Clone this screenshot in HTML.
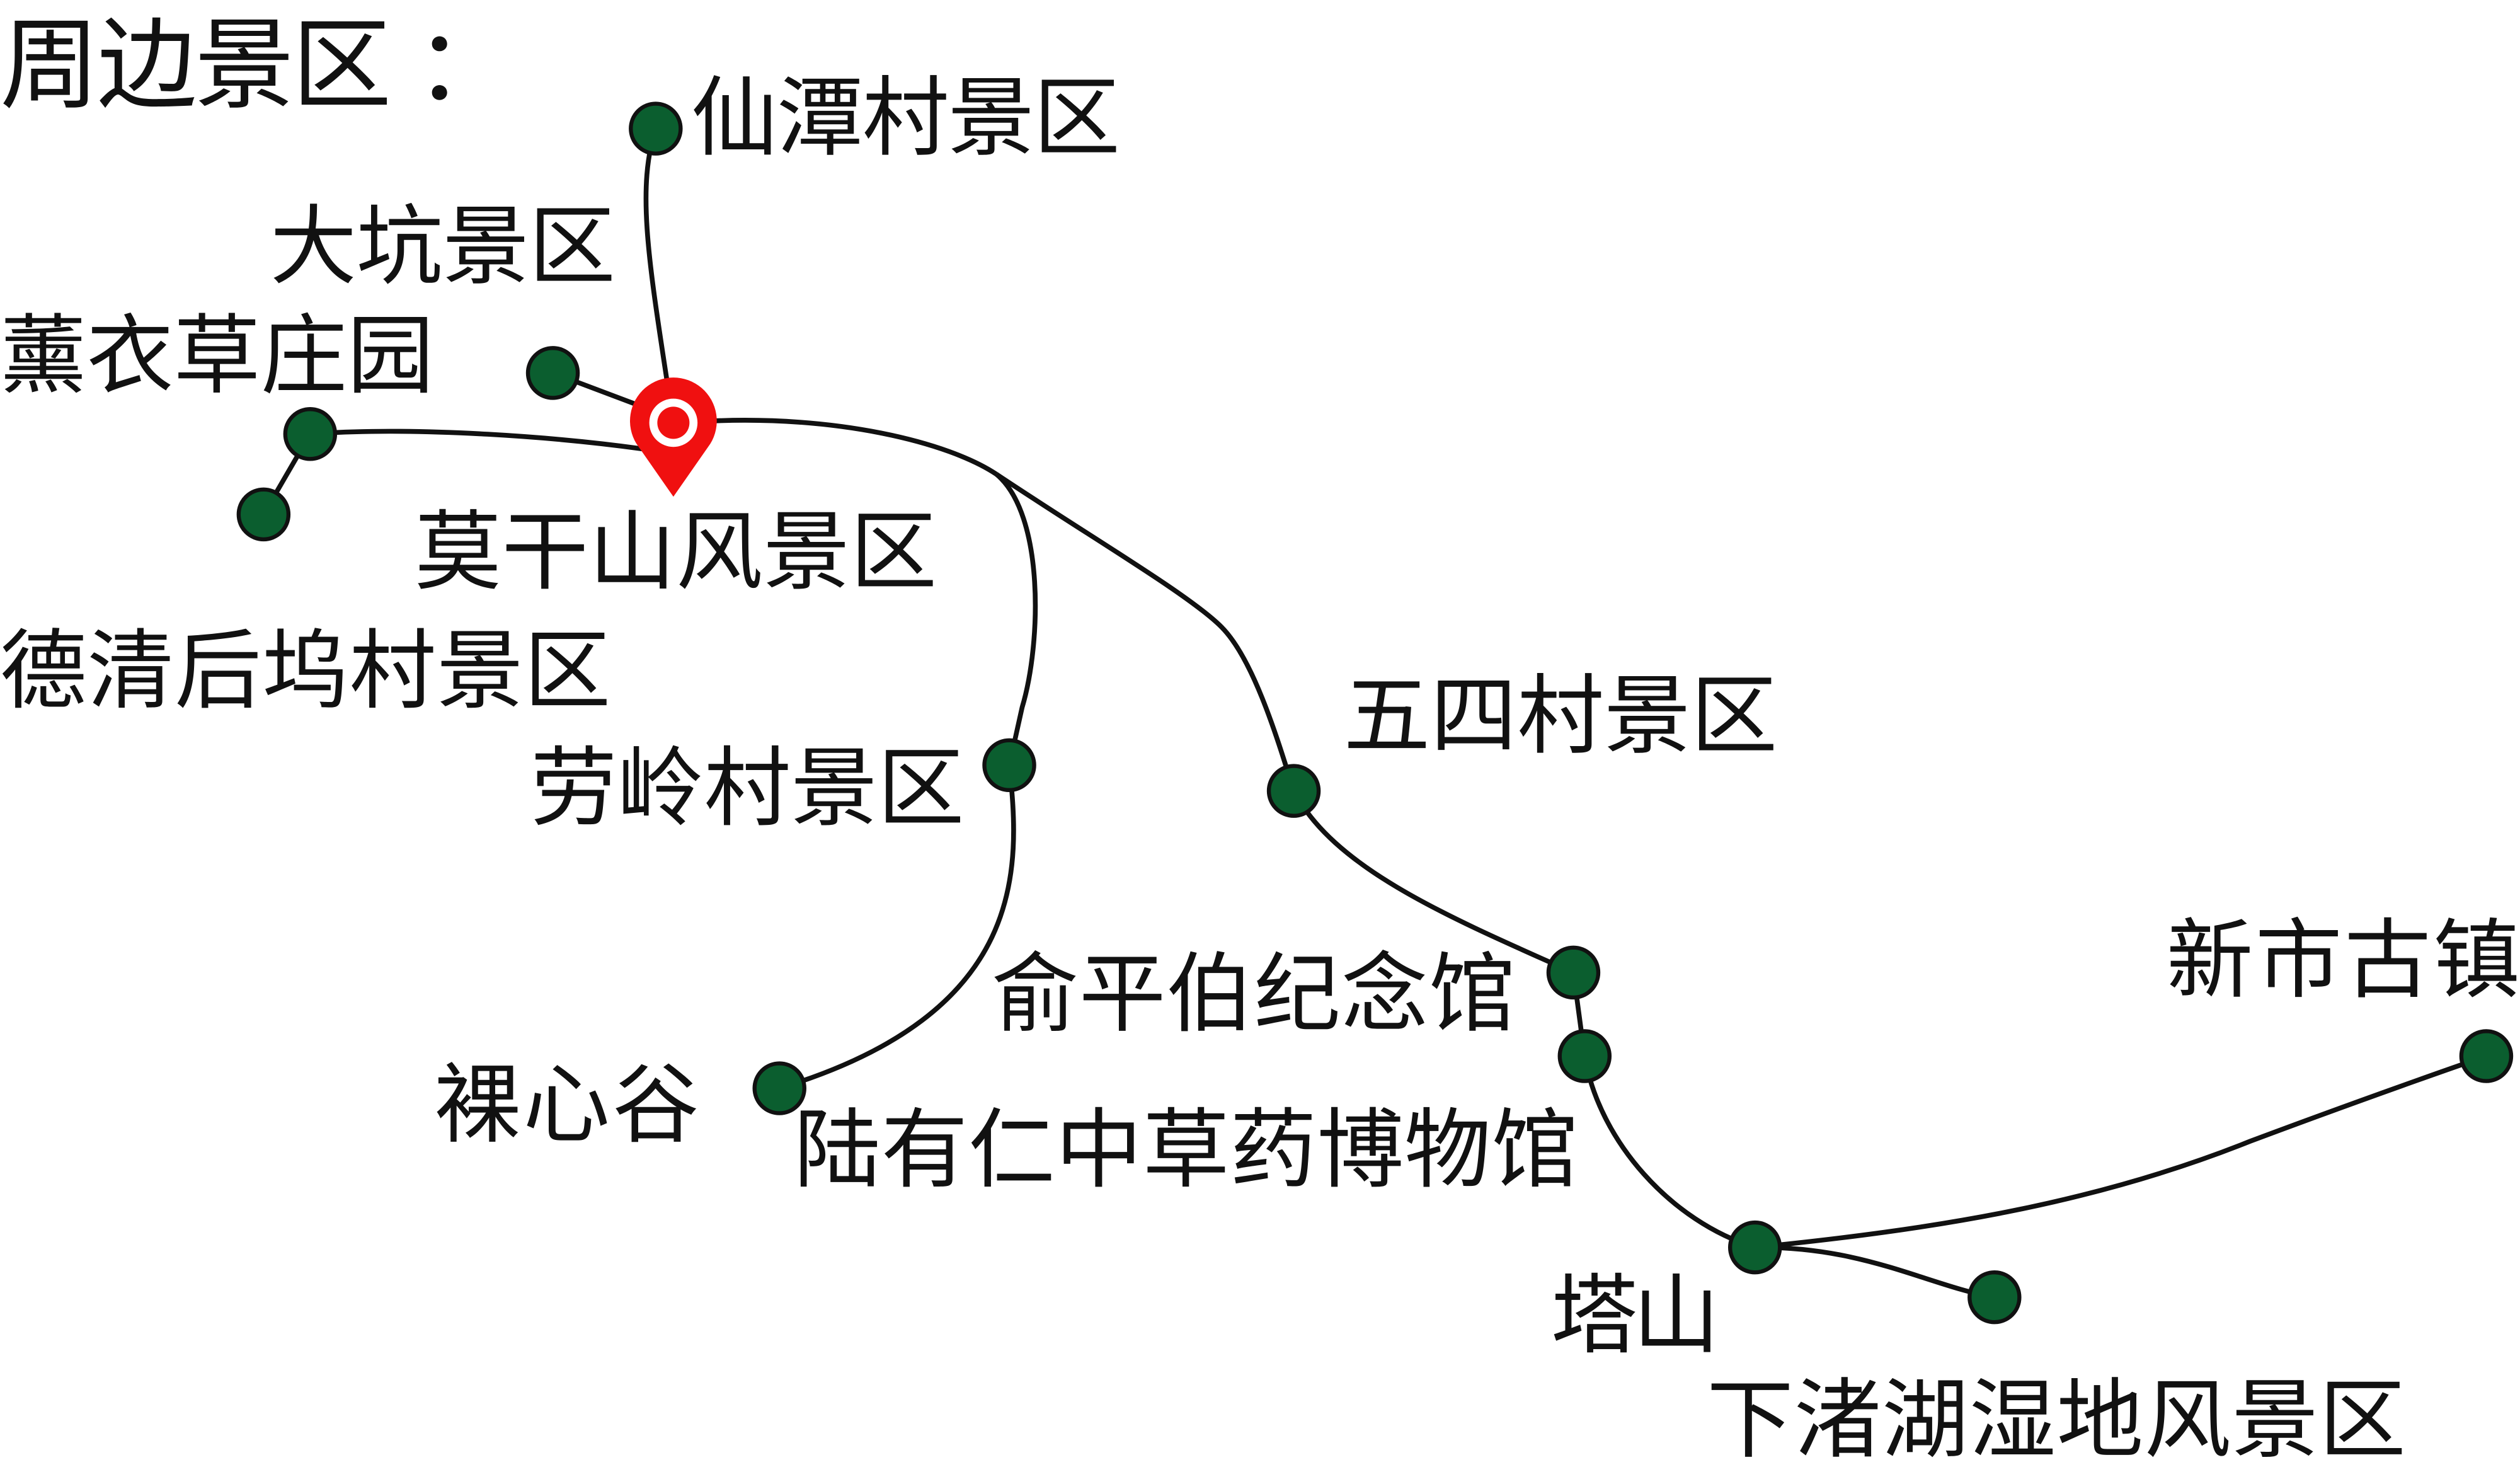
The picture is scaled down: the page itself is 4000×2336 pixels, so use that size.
<!DOCTYPE html>
<html><head><meta charset="utf-8"><style>
html,body{margin:0;padding:0;background:#fff;}
svg{display:block;}
text{font-family:"Liberation Sans","Noto Sans CJK SC",sans-serif;fill:#111;}
</style></head><body>
<svg width="4000" height="2336" viewBox="0 0 1568 915.7" xmlns="http://www.w3.org/2000/svg">
<rect width="1568" height="916" fill="#fff"/>
<g fill="none" stroke="#111" stroke-width="3">
<path d="M408,80 C395,120 405,170 419,263"/>
<path d="M344,232 L405,255"/>
<path d="M193,270 C260,265 350,272 405,280"/>
<path d="M193,270 L164,320"/>
<path d="M440,262 C520,258 590,275 620,295"/>
<path d="M620,295 C650,320 648,400 636,440 L628,476"/>
<path d="M628,476 C635,540 640,630 485,677"/>
<path d="M620,295 C680,335 740,370 760,390 C780,410 795,460 805,492"/>
<path d="M805,492 C830,540 900,570 979,605 L986,657"/>
<path d="M986,657 C995,710 1040,760 1092,776"/>
<path d="M1092,776 C1200,765 1300,750 1400,710 C1480,680 1547,657 1547,657"/>
<path d="M1092,776 C1160,775 1200,800 1241,807"/>
</g>
<g fill="#0b5e2f" stroke="#111" stroke-width="2.5">
<circle cx="408" cy="80" r="15.5"/>
<circle cx="344" cy="232" r="15.5"/>
<circle cx="193" cy="270" r="15.5"/>
<circle cx="164" cy="320" r="15.5"/>
<circle cx="628" cy="476" r="15.5"/>
<circle cx="805" cy="492" r="15.5"/>
<circle cx="979" cy="605" r="15.5"/>
<circle cx="986" cy="657" r="15.5"/>
<circle cx="485" cy="677" r="15.5"/>
<circle cx="1092" cy="776" r="15.5"/>
<circle cx="1241" cy="807" r="15.5"/>
<circle cx="1547" cy="657" r="15.5"/>
</g>
<g>
<path d="M396,276 A27,27 0 1 1 442,276 L419,309 Z" fill="#f01010"/>
<circle cx="419" cy="263" r="15" fill="#fff"/>
<circle cx="419" cy="263" r="10" fill="#f01010"/>
</g>
<g font-size="54" lengthAdjust="spacingAndGlyphs">
<text x="0" y="62" font-size="62" textLength="320">周边景区 ：</text>
<text x="430" y="92" textLength="267">仙潭村景区</text>
<text x="168" y="172" textLength="215">大坑景区</text>
<text x="0" y="240" textLength="270">薰衣草庄园</text>
<text x="258" y="362" textLength="325">莫干山风景区</text>
<text x="0" y="436" textLength="380">德清后坞村景区</text>
<text x="330" y="509" textLength="270">劳岭村景区</text>
<text x="836" y="464" textLength="270">五四村景区</text>
<text x="617" y="637" textLength="326">俞平伯纪念馆</text>
<text x="270" y="706" textLength="165">裸心谷</text>
<text x="494" y="734" textLength="488">陆有仁中草药博物馆</text>
<text x="1348" y="616" textLength="220">新市古镇</text>
<text x="965" y="837" textLength="105">塔山</text>
<text x="1062" y="902" textLength="435">下渚湖湿地风景区</text>
</g>
</svg>
</body></html>
